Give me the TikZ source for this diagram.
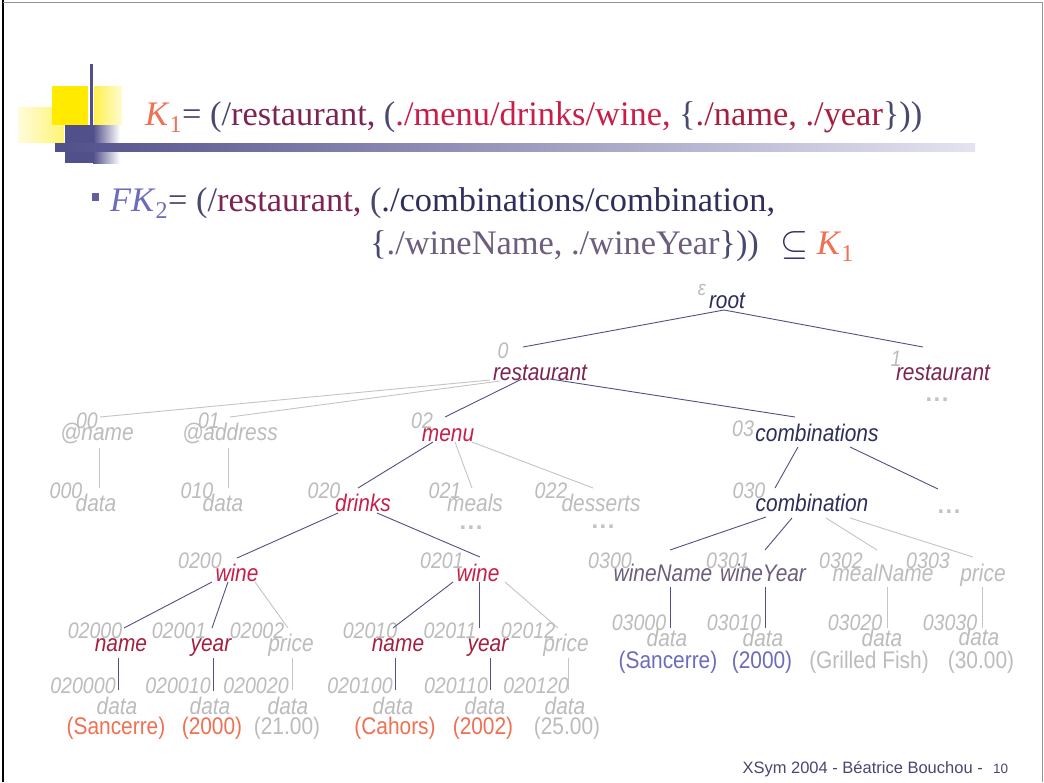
\documentclass[tikz,border=0pt]{standalone}
\usepackage{fontspec}
\setmainfont{Liberation Serif}
\newfontfamily\treesans[FakeStretch=0.87]{Liberation Sans}
\newfontfamily\footsans{Liberation Sans}

\definecolor{cSlate}{RGB}{72,72,112}
\definecolor{cMaroon}{RGB}{125,36,82}
\definecolor{cCrimson}{RGB}{200,30,72}
\definecolor{cDarkRed}{RGB}{165,32,62}
\definecolor{cOrange}{RGB}{240,112,82}
\definecolor{cLav}{RGB}{108,108,188}
\definecolor{cNavy}{RGB}{46,46,92}
\definecolor{cGrayPurple}{RGB}{108,94,124}
\definecolor{cGray}{RGB}{188,188,188}
\definecolor{cLine}{RGB}{82,80,132}
\definecolor{cGrayLine}{RGB}{196,196,196}
\definecolor{cDeco}{RGB}{82,80,138}
\definecolor{cBarEnd}{RGB}{228,227,240}
\definecolor{cYellow}{RGB}{255,234,0}
\definecolor{cBullet}{RGB}{96,96,156}

\begin{document}
\begin{tikzpicture}[x=1pt,y=-1pt,
  tw/.style={font=\treesans\itshape\fontsize{24}{24}\selectfont, inner sep=0pt, anchor=base},
  tix/.style={font=\treesans\itshape\fontsize{22.5}{22.5}\selectfont, text=cGray, inner sep=0pt, anchor=base},
  tval/.style={font=\treesans\fontsize{24}{24}\selectfont, inner sep=0pt, anchor=base},
  tdots/.style={font=\footsans\bfseries\fontsize{24}{24}\selectfont, text=cGray!90, inner sep=0pt, anchor=base},
  dat/.style={tw, text=cGray},
  enav/.style={draw=cLine, line width=0.9pt},
  egry/.style={draw=cGrayLine, line width=0.9pt},
  ttl/.style={font=\fontsize{34.4}{34.4}\selectfont, inner sep=0pt, anchor=base west},
]
\useasboundingbox (0,0) rectangle (1044,782);
\fill[white] (0,0) rectangle (1044,782);

% slide frame
\draw[black, line width=1.4pt] (3,0) -- (3,782);
\draw[gray!85, line width=1pt] (3,2) -- (1042,2) -- (1042,782);

% title ornament
\shade[left color=cYellow!14, right color=cYellow!55] (18,107) rectangle (64,142);
\fill[cYellow] (52,86) rectangle (88,125);
\shade[left color=cYellow!70, right color=cYellow!18] (94,86) rectangle (122,124);
\fill[cDeco] (90,64) rectangle (93,125);
\fill[cDeco] (65,125) rectangle (93,163);
\shade[left color=cDeco, right color=white] (93,125) rectangle (120,163);
\shade[left color=cDeco, right color=cBarEnd] (55,143) rectangle (975,151);

% title and bullet text
\node[ttl] (title) at (145,125) {\textcolor{cOrange}{\textit{K}\textsubscript{1}}\textcolor{cSlate}{= (/}\textcolor{cMaroon}{restaurant,} \textcolor{cSlate}{(}\textcolor{cCrimson}{./menu/drinks/wine,} \textcolor{cSlate}{\{}\textcolor{cDarkRed}{./name, ./year}\textcolor{cSlate}{\}))}};
\node[fill=cBullet, minimum width=7pt, minimum height=8pt, inner sep=0pt] (bullet) at (95,197) {};
\node[ttl] (fk) at (110,211) {\textcolor{cLav}{\textit{FK}\textsubscript{2}}\textcolor{cSlate}{= (/}\textcolor{cMaroon}{restaurant,} \textcolor{cSlate}{(}\textcolor{cNavy}{./combinations/combination,}};
\node[ttl] (fkb) at (370,254) {\textcolor{cSlate}{\{}\textcolor{cGrayPurple}{./wineName, ./wineYear}\textcolor{cSlate}{\}))}\hspace{22pt}\textcolor{cNavy}{\scalebox{1.45}{$\subseteq$}}\hspace{8pt}\textcolor{cOrange}{\textit{K}\textsubscript{1}}};

% ---------- tree: labels ----------
\node[tw, text=cNavy] (root) at (727,308) {root};
\node[tix, font=\treesans\itshape\fontsize{21}{21}\selectfont] (iroot) at (702,295) {ε};

\node[tw, text=cMaroon] (r0) at (540,380) {restaurant};
\node[tix] (i0) at (503,358) {0};
\node[tw, text=cMaroon] (r1) at (943,380) {restaurant};
\node[tix] (i1) at (896,366) {1};
\node[tdots] (r1dots) at (937,401) {.\kern1.5pt.\kern1.5pt.};

\node[tw, text=cGray] (aname) at (97,440) {@name};
\node[tix] (i00) at (87,428) {00};
\node[tw, text=cGray] (aaddr) at (230,440) {@address};
\node[tix] (i01) at (209,428) {01};
\node[tw, text=cCrimson] (menu) at (448,441) {menu};
\node[tix] (i02) at (422,428) {02};
\node[tw, text=cNavy] (combs) at (817,441) {combinations};
\node[tix] (i03) at (743,436) {03};

\node[dat] (d000) at (96,511) {data};
\node[tix] (i000) at (66,498) {000};
\node[dat] (d010) at (223,511) {data};
\node[tix] (i010) at (197,498) {010};
\node[tw, text=cCrimson] (drinks) at (363,511) {drinks};
\node[tix] (i020) at (324,498) {020};
\node[tw, text=cGray] (meals) at (475,511) {meals};
\node[tix] (i021) at (445,498) {021};
\node[tdots] (mdots) at (471,529) {.\kern1.5pt.\kern1.5pt.};
\node[tw, text=cGray] (desserts) at (601,511) {desserts};
\node[tix] (i022) at (551,498) {022};
\node[tdots] (ddots) at (603,528) {.\kern1.5pt.\kern1.5pt.};
\node[tw, text=cNavy] (comb) at (812,511) {combination};
\node[tix] (i030) at (749,498) {030};
\node[tdots] (cdots) at (949,513) {.\kern1.5pt.\kern1.5pt.};

\node[tw, text=cCrimson] (wineA) at (237,581) {wine};
\node[tix] (i0200) at (200,568) {0200};
\node[tw, text=cCrimson] (wineB) at (478,581) {wine};
\node[tix] (i0201) at (442,568) {0201};
\node[tw, text=cGrayPurple] (wname) at (663,581) {wineName};
\node[tix] (i0300) at (610,568) {0300};
\node[tw, text=cGrayPurple] (wyear) at (763,581) {wineYear};
\node[tix] (i0301) at (728,568) {0301};
\node[tw, text=cGray] (mname) at (883,581) {mealName};
\node[tix] (i0302) at (841,568) {0302};
\node[tw, text=cGray] (cprice) at (983,581) {price};
\node[tix] (i0303) at (928,568) {0303};

\node[tw, text=cDarkRed] (nameA) at (121,651) {name};
\node[tix] (i02000) at (95,638) {02000};
\node[tw, text=cDarkRed] (yearA) at (211,651) {year};
\node[tix] (i02001) at (179,638) {02001};
\node[tw, text=cGray] (priceA) at (291,651) {price};
\node[tix] (i02002) at (257,638) {02002};
\node[tw, text=cDarkRed] (nameB) at (398,651) {name};
\node[tix] (i02010) at (370,638) {02010};
\node[tw, text=cDarkRed] (yearB) at (488,651) {year};
\node[tix] (i02011) at (450,638) {02011};
\node[tw, text=cGray] (priceB) at (566,651) {price};
\node[tix] (i02012) at (528,638) {02012};

\node[dat] (dC1) at (667,646) {data};
\node[tix] (i03000) at (639,630) {03000};
\node[tval, text=cLav] (vC1) at (668,668) {(Sancerre)};
\node[dat] (dC2) at (763,646) {data};
\node[tix] (i03010) at (734,630) {03010};
\node[tval, text=cLav] (vC2) at (762,668) {(2000)};
\node[dat] (dC3) at (882,646) {data};
\node[tix] (i03020) at (855,630) {03020};
\node[tval, text=cGray] (vC3) at (869,668) {(Grilled Fish)};
\node[dat] (dC4) at (979,645) {data};
\node[tix] (i03030) at (950,630) {03030};
\node[tval, text=cGray] (vC4) at (981,668) {(30.00)};

\node[dat] (dA1) at (117,714) {data};
\node[tix] (i020000) at (83,693) {020000};
\node[tval, text=cOrange] (vA1) at (116,734) {(Sancerre)};
\node[dat] (dA2) at (210,714) {data};
\node[tix] (i020010) at (178,693) {020010};
\node[tval, text=cOrange] (vA2) at (212,734) {(2000)};
\node[dat] (dA3) at (288,714) {data};
\node[tix] (i020020) at (256,693) {020020};
\node[tval, text=cGray] (vA3) at (287,734) {(21.00)};
\node[dat] (dB1) at (393,714) {data};
\node[tix] (i020100) at (360,693) {020100};
\node[tval, text=cOrange] (vB1) at (395,734) {(Cahors)};
\node[dat] (dB2) at (485,714) {data};
\node[tix] (i020110) at (456,693) {020110};
\node[tval, text=cOrange] (vB2) at (483,734) {(2002)};
\node[dat] (dB3) at (565,714) {data};
\node[tix] (i020120) at (536,693) {020120};
\node[tval, text=cGray] (vB3) at (567,734) {(25.00)};

% ---------- tree: edges ----------
\draw[enav] ([shift={(-3,2)}]root.base) -- ([shift={(-17,-33)}]r0.base);
\draw[enav] ([shift={(-3,2)}]root.base) -- ([shift={(-20,-33)}]r1.base);

\draw[egry] ([shift={(-50,0)}]r0.base) -- ([shift={(3,-23)}]aname.base);
\draw[egry] ([shift={(-40,1)}]r0.base) -- ([shift={(0,-23)}]aaddr.base);
\draw[enav] ([shift={(-18,-1)}]r0.base) -- ([shift={(-3,-24)}]menu.base);
\draw[enav] ([shift={(10,-1)}]r0.base) -- ([shift={(-22,-24)}]combs.base);

\draw[egry] ([shift={(2,8)}]aname.base) -- ([shift={(3,-23)}]d000.base);
\draw[egry] ([shift={(-2,8)}]aaddr.base) -- ([shift={(5,-23)}]d010.base);
\draw[enav] ([shift={(-15,1)}]menu.base) -- ([shift={(-5,-23)}]drinks.base);
\draw[egry] ([shift={(7,1)}]menu.base) -- ([shift={(-3,-23)}]meals.base);
\draw[egry] ([shift={(24,1)}]menu.base) -- ([shift={(-8,-23)}]desserts.base);
\draw[enav] ([shift={(-19,6)}]combs.base) -- ([shift={(-37,-23)}]comb.base);
\draw[enav] ([shift={(33,6)}]combs.base) -- ([shift={(-11,-24)}]cdots.base);

\draw[enav] ([shift={(-25,2)}]drinks.base) -- ([shift={(0,-23)}]wineA.base);
\draw[enav] ([shift={(14,2)}]drinks.base) -- ([shift={(2,-24)}]wineB.base);
\draw[enav] ([shift={(-46,6)}]comb.base) -- ([shift={(7,-31)}]wname.base);
\draw[enav] ([shift={(-20,7)}]comb.base) -- ([shift={(2,-31)}]wyear.base);
\draw[egry] ([shift={(14,7)}]comb.base) -- ([shift={(-6,-31)}]mname.base);
\draw[egry] ([shift={(38,7)}]comb.base) -- ([shift={(-10,-24)}]cprice.base);

\draw[enav] ([shift={(-25,1)}]wineA.base) -- ([shift={(3,-23)}]nameA.base);
\draw[enav] ([shift={(-9,1)}]wineA.base) -- ([shift={(1,-23)}]yearA.base);
\draw[egry] ([shift={(18,1)}]wineA.base) -- ([shift={(-3,-23)}]priceA.base);
\draw[enav] ([shift={(-25,1)}]wineB.base) -- ([shift={(-5,-23)}]nameB.base);
\draw[enav] ([shift={(1,1)}]wineB.base) -- ([shift={(-9,-23)}]yearB.base);
\draw[egry] ([shift={(27,1)}]wineB.base) -- ([shift={(-8,-23)}]priceB.base);

\draw[enav] ([shift={(7,6)}]wname.base) -- ([shift={(3,-18)}]dC1.base);
\draw[enav] ([shift={(2,6)}]wyear.base) -- ([shift={(2,-18)}]dC2.base);
\draw[egry] ([shift={(4,6)}]mname.base) -- ([shift={(5,-18)}]dC3.base);
\draw[egry] ([shift={(-1,6)}]cprice.base) -- ([shift={(3,-17)}]dC4.base);

\draw[enav] ([shift={(-3,7)}]nameA.base) -- ([shift={(1,-24)}]dA1.base);
\draw[enav] ([shift={(2,7)}]yearA.base) -- ([shift={(3,-23)}]dA2.base);
\draw[egry] ([shift={(1,7)}]priceA.base) -- ([shift={(4,-24)}]dA3.base);
\draw[enav] ([shift={(-3,7)}]nameB.base) -- ([shift={(2,-24)}]dB1.base);
\draw[enav] ([shift={(2,7)}]yearB.base) -- ([shift={(5,-24)}]dB2.base);
\draw[egry] ([shift={(2,7)}]priceB.base) -- ([shift={(3,-24)}]dB3.base);

% footer
\node[font=\footsans\fontsize{16.5}{16.5}\selectfont, text=cSlate, inner sep=0pt, anchor=base east] (foot) at (983,773) {XSym 2004 - Béatrice Bouchou -};
\node[font=\footsans\fontsize{13.5}{13.5}\selectfont, text=cSlate, inner sep=0pt, anchor=base west] (pageno) at (993,773) {10};
\end{tikzpicture}
\end{document}
